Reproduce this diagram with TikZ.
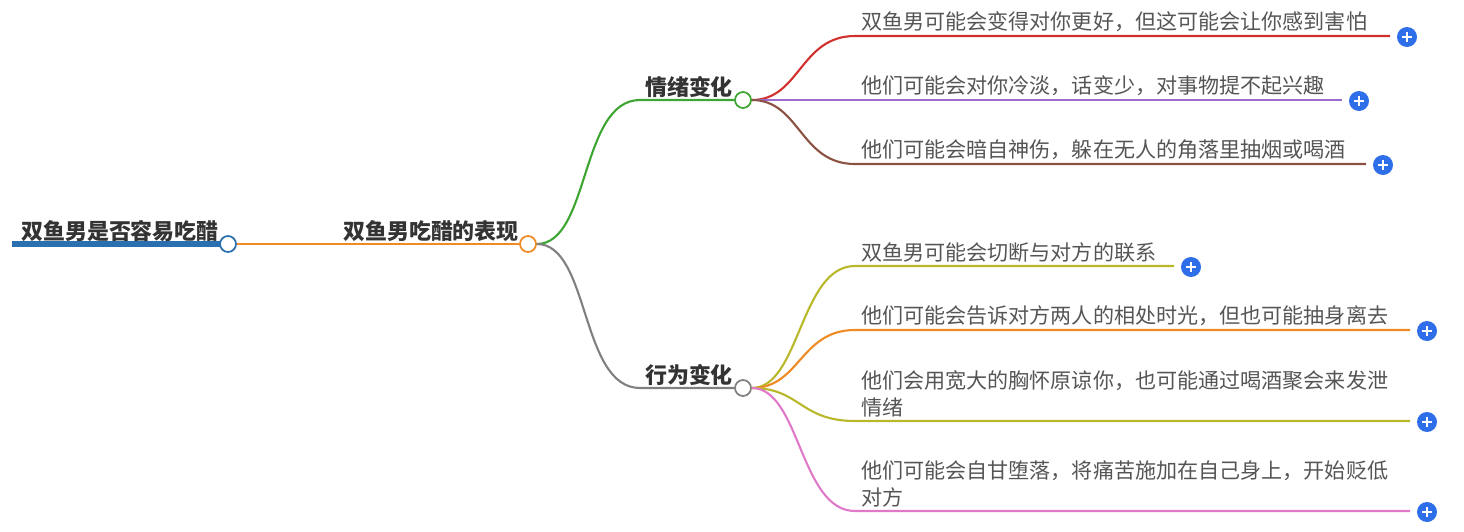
\documentclass[tikz,border=0pt]{standalone}
\usepackage{fontspec}
\setmainfont{Noto Sans CJK SC}
\usetikzlibrary{positioning,calc}
\definecolor{cblue}{HTML}{2A6FB0}
\definecolor{corange}{HTML}{F08A24}
\definecolor{cgreen}{HTML}{3DA532}
\definecolor{cgrey}{HTML}{808080}
\definecolor{cred}{HTML}{D0312D}
\definecolor{cpurple}{HTML}{9B6BD0}
\definecolor{cbrown}{HTML}{8B5243}
\definecolor{colive}{HTML}{B8B82A}
\definecolor{cpink}{HTML}{E07AC8}
\definecolor{ctext}{HTML}{555555}
\definecolor{cplus}{HTML}{2E6EE8}
\tikzset{
  topic/.style={font=\bfseries\fontsize{12.5}{14}\selectfont, text=black!80, inner sep=1pt, anchor=south},
  leaf/.style={font=\fontsize{12}{15}\selectfont, text=ctext, inner sep=1pt, anchor=south west, align=left},
  knob/.style={circle, draw=#1, fill=white, line width=1pt, minimum size=0.32cm, inner sep=0pt},
  plus/.style={circle, fill=cplus, minimum size=0.4cm, inner sep=0pt,
    path picture={\draw[white, line width=1.3pt] ([xshift=-2.6pt]path picture bounding box.center) -- ([xshift=2.6pt]path picture bounding box.center);
                  \draw[white, line width=1.3pt] ([yshift=-2.6pt]path picture bounding box.center) -- ([yshift=2.6pt]path picture bounding box.center);}},
  link/.style={line width=1.2pt, draw=#1}
}
\begin{document}
\begin{tikzpicture}[x=0.02cm, y=-0.02cm]
\useasboundingbox (0,0) rectangle (1464,531);
% root and main topic
\draw[cblue, line width=3pt] (12,244) -- (220,244);
\node[topic] (root) at (120,244) {双鱼男是否容易吃醋};
\node[knob=cblue] (k0) at (228,244) {};
\node[topic] (main) at (431,244) {双鱼男吃醋的表现};
\node[knob=corange] (k1) at (528,244) {};
\draw[link=corange] (k0) -- (k1);
% two branches
\node[topic] (emo) at (689,100) {情绪变化};
\node[knob=cgreen] (k2) at (743,100) {};
\node[topic] (act) at (689,388) {行为变化};
\node[knob=cgrey] (k3) at (743,388) {};
\draw[link=cgreen] (k1.east) .. controls (590,244) and (580,100) .. (640,100) -- (k2.west);
\draw[link=cgrey] (k1.east) .. controls (590,244) and (580,388) .. (640,388) -- (k3.west);
% leaves
\foreach \name/\kn/\ky/\y/\xe/\col/\txt in {
  a/k2/100/36/1390/cred/{双鱼男可能会变得对你更好，但这可能会让你感到害怕},
  b/k2/100/100/1342/cpurple/{他们可能会对你冷淡，话变少，对事物提不起兴趣},
  c/k2/100/164/1366/cbrown/{他们可能会暗自神伤，躲在无人的角落里抽烟或喝酒},
  d/k3/388/266/1174/colive/{双鱼男可能会切断与对方的联系},
  e/k3/388/330/1410/corange/{他们可能会告诉对方两人的相处时光，但也可能抽身离去},
  f/k3/388/421/1410/colive/{他们会用宽大的胸怀原谅你，也可能通过喝酒聚会来发泄\\情绪},
  g/k3/388/511/1410/cpink/{他们可能会自甘堕落，将痛苦施加在自己身上，开始贬低\\对方}} {
  \coordinate (s\name) at (855,\y);
  \coordinate (e\name) at (\xe,\y);
  \draw[link=\col] (\kn.east) .. controls (800,\ky) and (800,\y) .. (s\name) -- (e\name);
  \node[leaf] (t\name) at ($(s\name)+(4,-2)$) {\txt};
  \node[plus] (p\name) at ($(e\name)+(17,1)$) {};
}
\end{tikzpicture}
\end{document}
